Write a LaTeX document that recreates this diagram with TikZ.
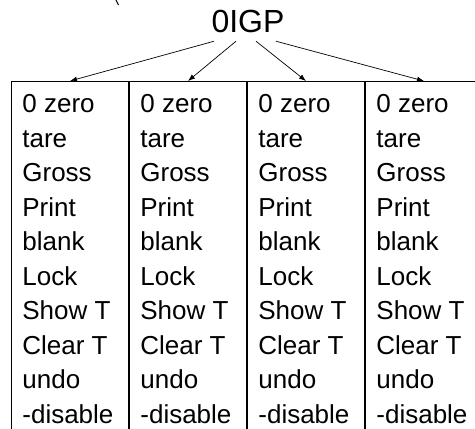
\documentclass[tikz,border=0pt]{standalone}
\usepackage{fontspec}
\setmainfont{Liberation Sans}
\usetikzlibrary{positioning}
\usetikzlibrary{arrows.meta}

\newcommand{\keylist}{0 zero\\tare\\Gross\\Print\\blank\\Lock\\Show T\\Clear T\\undo\\-disable}

\tikzset{
    colbox/.style={draw, line width=0.5pt, minimum width=58.5pt, minimum height=200pt, anchor=north west, inner sep=0pt},
    keys/.style={anchor=north west, align=left, inner sep=0pt, font=\fontsize{13}{17.25}\selectfont},
    feed/.style={-{Latex[length=3.5pt,width=2.6pt]}, line width=0.35pt},
}

\begin{document}
\begin{tikzpicture}[x=0.5pt,y=-0.5pt]
    \useasboundingbox (0,0) rectangle (475,428);
    \draw[line width=0.5pt] (115,-2) -- (118.5,5);
    \node[font=\fontsize{16}{16}\selectfont, inner xsep=0pt, inner ysep=4pt] (title) at (248,21.5) {0IGP};

    % columns
    \node[colbox] (col1) at (11,81) {};
    \node[colbox] (col2) at (col1.north east) {};
    \node[colbox] (col3) at (col2.north east) {};
    \node[colbox] (col4) at (col3.north east) {};

    \node[keys] (keys1) at ([xshift=5.5pt,yshift=-6.7pt]col1.north west) {\keylist};
    \node[keys] (keys2) at ([xshift=5.5pt,yshift=-6.7pt]col2.north west) {\keylist};
    \node[keys] (keys3) at ([xshift=5.5pt,yshift=-6.7pt]col3.north west) {\keylist};
    \node[keys] (keys4) at ([xshift=5.5pt,yshift=-6.7pt]col4.north west) {\keylist};

    \draw[feed] ([xshift=-17pt]title.south) -- (col1.north);
    \draw[feed] ([xshift=-6pt]title.south) -- (col2.north);
    \draw[feed] ([xshift=4pt]title.south) -- (col3.north);
    \draw[feed] ([xshift=14pt]title.south) -- (col4.north);
\end{tikzpicture}
\end{document}
